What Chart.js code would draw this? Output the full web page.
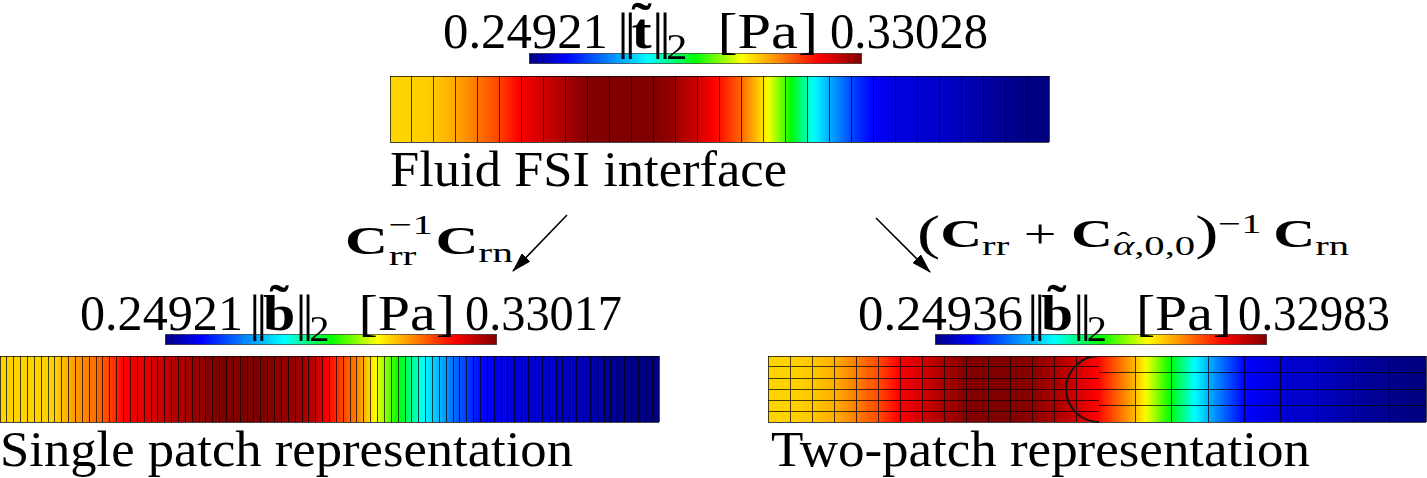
<!DOCTYPE html>
<html>
<head>
<meta charset="utf-8">
<script src="https://cdn.jsdelivr.net/npm/chart.js@4"></script>
<style>
  html, body { margin: 0; padding: 0; background: #fff; }
  #fig { position: relative; width: 1427px; height: 478px; overflow: hidden; }
  .box { position: absolute; }
  .box canvas { display: block; }
  .txt { position: absolute; white-space: nowrap; font-family: "Liberation Serif", "DejaVu Serif", serif;
         line-height: 1; color: #000; transform-origin: 0 0; }
  .txt b { font-weight: bold; }
  .sb { position: relative; top: 0.3em; font-size: 0.7em; line-height: 0; }
  .sp { position: relative; top: -0.48em; font-size: 0.7em; line-height: 0; }
  .par { font-size: 1.2em; line-height: 0; position: relative; top: 0.05em; }
  .acc { position: relative; display: inline-block; }
  .tl { position: absolute; left: 50%; transform: translateX(-50%); top: -0.2em; font-weight: bold; }
  .hat { position: absolute; left: 50%; transform: translateX(-50%); top: -0.15em; font-style: normal; }
  .ss { position: relative; display: inline-block; width: 0.8em; height: 1em; }
  .ss .a { position: absolute; left: 0.02em; top: -0.09em; font-size: 0.7em; line-height: 1; }
  .ss .c { position: absolute; left: 0.02em; top: 1.0em; font-size: 0.7em; line-height: 1; }
  .bars { letter-spacing: -0.08em; font-weight: normal; }
  svg { position: absolute; left: 0; top: 0; }
</style>
</head>
<body>
<div id="fig">
  <div class="box" style="left:529px;top:53px"><canvas id="cbTop" width="333" height="11"></canvas></div>
  <div class="box" style="left:390px;top:76px"><canvas id="stripTop" width="660" height="67"></canvas></div>

  <div class="box" style="left:165px;top:334px"><canvas id="cbSingle" width="332" height="11"></canvas></div>
  <div class="box" style="left:0px;top:356px"><canvas id="stripSingle" width="660" height="67"></canvas></div>

  <div class="box" style="left:935px;top:334px"><canvas id="cbTwo" width="332" height="11"></canvas></div>
  <div class="box" style="left:768px;top:356px"><canvas id="stripTwoL" width="332" height="67"></canvas></div>
  <div class="box" style="left:1099px;top:356px"><canvas id="stripTwoR" width="328" height="67"></canvas></div>

  <span class="txt" data-x="443" data-b="48" data-w="165" data-s="50">0.24921</span>
  <span class="txt" data-x="617" data-b="48" data-w="201" data-s="50"><span class="bars">||</span><b class="acc">t<span class="tl">˜</span></b><span class="bars">||</span><span class="sb">2</span>&nbsp; [Pa]</span>
  <span class="txt" data-x="830" data-b="48" data-w="158" data-s="50">0.33028</span>
  <span class="txt" data-x="390" data-b="186" data-w="397" data-s="50">Fluid FSI interface</span>

  <span class="txt" data-x="345" data-b="247" data-w="168" data-s="40"><b>C</b><span class="ss"><span class="a">−1</span><span class="c">rr</span></span><b>C</b><span class="sb">rn</span></span>
  <span class="txt" data-x="917" data-b="247" data-w="432" data-s="40"><span class="par">(</span><b>C</b><span class="sb">rr</span> + <b>C</b><span class="sb"><i class="acc">α<span class="hat">ˆ</span></i>,0,0</span><span class="par">)</span><span class="sp">−1</span>&thinsp;<b>C</b><span class="sb">rn</span></span>

  <span class="txt" data-x="80" data-b="330" data-w="163" data-s="50">0.24921</span>
  <span class="txt" data-x="249" data-b="330" data-w="206" data-s="50"><span class="bars">||</span><b class="acc">b<span class="tl">˜</span></b><span class="bars">||</span><span class="sb">2</span>&nbsp; [Pa]</span>
  <span class="txt" data-x="465" data-b="330" data-w="157" data-s="50">0.33017</span>
  <span class="txt" data-x="0" data-b="466" data-w="573" data-s="50">Single patch representation</span>

  <span class="txt" data-x="858" data-b="330" data-w="165" data-s="50">0.24936</span>
  <span class="txt" data-x="1027" data-b="330" data-w="205" data-s="50"><span class="bars">||</span><b class="acc">b<span class="tl">˜</span></b><span class="bars">||</span><span class="sb">2</span>&nbsp; [Pa]</span>
  <span class="txt" data-x="1238" data-b="330" data-w="152" data-s="50">0.32983</span>
  <span class="txt" data-x="771" data-b="466" data-w="539" data-s="50">Two-patch representation</span>

  <svg width="1427" height="478">
    <defs>
      <marker id="head" markerUnits="userSpaceOnUse" markerWidth="20" markerHeight="12" refX="19" refY="6" orient="auto">
        <path d="M0,0 L20,6 L0,12 z" fill="#000"></path>
      </marker>
    </defs>
    <line x1="567" y1="215" x2="513" y2="271" stroke="#000" stroke-width="1.6" marker-end="url(#head)"></line>
    <line x1="876" y1="218" x2="930" y2="272" stroke="#000" stroke-width="1.6" marker-end="url(#head)"></line>
  </svg>
</div>

<script>
// Traction norm along the interface, sampled at the mesh lines [Pa]
const topRange = [0.24921, 0.33028];
const topCols = 30;
const topField = [0.30434, 0.30434, 0.30499, 0.30758, 0.31115, 0.31504, 0.32055, 0.32363, 0.32696, 0.33004,
  0.33028, 0.33028, 0.33028, 0.32785, 0.32379, 0.31852, 0.31212, 0.30312, 0.29258, 0.28123,
  0.27191, 0.2638, 0.25797, 0.25594, 0.25513, 0.25432, 0.25318, 0.25205, 0.25034, 0.24945, 0.24921];

// Single patch: 96 columns, field read every second column
const singleRange = [0.24921, 0.33017];
const singleCols = 96;
const singleField = [0.30426, 0.30426, 0.30426, 0.30426, 0.30426, 0.3071, 0.30953, 0.31171, 0.31479, 0.31965,
  0.32094, 0.32288, 0.32466, 0.32628, 0.3275, 0.32936, 0.33017, 0.33017, 0.33017, 0.33017,
  0.32936, 0.32855, 0.32734, 0.32491, 0.31884, 0.31438, 0.31033, 0.30345, 0.29657, 0.28969,
  0.28321, 0.27755, 0.27269, 0.26702, 0.26297, 0.25893, 0.25714, 0.25609, 0.25528, 0.25488,
  0.25447, 0.25391, 0.25326, 0.25245, 0.25123, 0.25026, 0.2497, 0.24937, 0.24921];

// Two patches: left 15x6 cells, right 9x4 cells
const twoRange = [0.24936, 0.32983];
const twoLeftCols = 15, twoLeftRows = 6;
const twoLeftField = [0.30408, 0.30408, 0.30488, 0.30665, 0.31028, 0.31374, 0.31985, 0.32307, 0.32653, 0.32943,
  0.32983, 0.32983, 0.32878, 0.32653, 0.32323, 0.31897];
const twoRightCols = 9, twoRightRows = 4;
const twoRightField = [0.31897, 0.30569, 0.28879, 0.27229, 0.25821, 0.25523, 0.25419, 0.25177, 0.25016, 0.24936];

const JET = [
  [0, [0, 0, 128]], [0.11, [0, 0, 255]], [0.36, [0, 255, 255]], [0.5, [0, 255, 0]],
  [0.64, [255, 255, 0]], [0.87, [255, 0, 0]], [1, [128, 0, 0]]
];
const MESH = 'rgba(0,0,0,0.72)';

function jetColor(t) {
  t = Math.min(1, Math.max(0, t));
  for (let i = 1; i < JET.length; i++) {
    if (t <= JET[i][0]) {
      const [t0, c0] = JET[i - 1];
      const [t1, c1] = JET[i];
      const f = (t - t0) / (t1 - t0);
      return 'rgb(' + c0.map((c, k) => Math.round(c + (c1[k] - c) * f)).join(',') + ')';
    }
  }
  return 'rgb(128,0,0)';
}

// one floating bar per interval between two samples
function segments(field, cols) {
  const step = cols / (field.length - 1);
  return field.slice(1).map((v, i) => ({ x: [i * step, (i + 1) * step], y: 'field', from: field[i], to: v }));
}

function segmentFill(ctx, range) {
  if (ctx.type !== 'data' || !ctx.raw) return jetColor(0);
  const mid = (ctx.raw.from + ctx.raw.to) / 2;
  const flat = jetColor((mid - range[0]) / (range[1] - range[0]));
  const xs = ctx.chart.scales.x;
  if (!xs) return flat;
  const p0 = xs.getPixelForValue(ctx.raw.x[0]);
  const p1 = xs.getPixelForValue(ctx.raw.x[1]);
  // scales are not laid out yet on the first (reset) pass
  if (!Number.isFinite(p0) || !Number.isFinite(p1) || p0 === p1) return flat;
  const g = ctx.chart.ctx.createLinearGradient(p0, 0, p1, 0);
  for (let j = 0; j <= 8; j++) {
    const v = ctx.raw.from + (ctx.raw.to - ctx.raw.from) * j / 8;
    g.addColorStop(j / 8, jetColor((v - range[0]) / (range[1] - range[0])));
  }
  return g;
}

// mesh lines: one tick per element boundary
const meshTicks = n => axis => { axis.ticks = Array.from({ length: n + 1 }, (_, i) => ({ value: i })); };

const interfaceArc = {
  id: 'interfaceArc',
  afterDraw(chart) {
    const { ctx, chartArea: a, scales } = chart;
    const cx = scales.x.getPixelForValue(scales.x.max);
    const cy = (a.top + a.bottom) / 2;
    const r = (a.bottom - a.top) / 2;
    ctx.save();
    ctx.beginPath();
    ctx.arc(cx, cy, r, Math.PI / 2, Math.PI * 3 / 2);
    ctx.lineWidth = 2;
    ctx.strokeStyle = '#111';
    ctx.stroke();
    ctx.restore();
  }
};

function stripChart(id, field, cols, rows, range, extra) {
  extra = extra || {};
  const gridColor = c => (extra.skipFirst && c.index === 0) ? 'rgba(0,0,0,0)' : MESH;
  return new Chart(document.getElementById(id), {
    type: 'bar',
    data: {
      labels: ['field'],
      datasets: [{
        data: segments(field, cols),
        backgroundColor: c => segmentFill(c, range),
        borderWidth: 0,
        barPercentage: 1,
        categoryPercentage: 1,
        xAxisID: 'x',
        yAxisID: 'y'
      }]
    },
    plugins: extra.plugins || [],
    options: {
      indexAxis: 'y',
      responsive: false,
      animation: false,
      events: [],
      layout: { padding: { left: 0, top: 0, right: 1, bottom: 1 } },
      plugins: { legend: { display: false }, tooltip: { enabled: false } },
      scales: {
        x: {
          type: 'linear', min: 0, max: cols, offset: false,
          afterBuildTicks: meshTicks(cols),
          ticks: { display: false, autoSkip: false },
          grid: { z: 1, offset: false, color: gridColor, lineWidth: 1, drawTicks: false, tickLength: 0 },
          border: { display: false }
        },
        y: { type: 'category', display: false, offset: true },
        mesh: {
          type: 'linear', axis: 'y', position: 'left', min: 0, max: rows, offset: false,
          afterBuildTicks: meshTicks(rows),
          ticks: { display: false, autoSkip: false },
          grid: { z: 1, offset: false, color: MESH, lineWidth: 1, drawTicks: false, tickLength: 0 },
          border: { display: false }
        }
      }
    }
  });
}

function colorbar(id, range) {
  return new Chart(document.getElementById(id), {
    type: 'bar',
    data: {
      labels: ['bar'],
      datasets: [{
        data: [{ x: range, y: 'bar' }],
        backgroundColor: c => {
          const xs = c.chart.scales.x;
          if (!xs) return jetColor(0.5);
          const p0 = xs.getPixelForValue(range[0]);
          const p1 = xs.getPixelForValue(range[1]);
          if (!Number.isFinite(p0) || !Number.isFinite(p1) || p0 === p1) return jetColor(0.5);
          const g = c.chart.ctx.createLinearGradient(p0, 0, p1, 0);
          JET.forEach(([t, col]) => g.addColorStop(t, 'rgb(' + col.join(',') + ')'));
          return g;
        },
        borderColor: '#4a4a4a',
        borderWidth: 1,
        borderSkipped: false,
        barPercentage: 1,
        categoryPercentage: 1
      }]
    },
    options: {
      indexAxis: 'y',
      responsive: false,
      animation: false,
      events: [],
      layout: { padding: 0 },
      plugins: { legend: { display: false }, tooltip: { enabled: false } },
      scales: {
        x: { type: 'linear', min: range[0], max: range[1], display: false },
        y: { type: 'category', display: false, offset: true }
      }
    }
  });
}

// place labels on their baselines and fit them to the reference widths
function placeLabels() {
  document.querySelectorAll('.txt').forEach(el => {
    const s = +el.dataset.s;
    el.style.fontSize = s + 'px';
    el.style.left = el.dataset.x + 'px';
    el.style.top = (el.dataset.b - 0.8375 * s) + 'px';
    el.style.transform = 'none';
    const w = el.getBoundingClientRect().width;
    el.style.transform = 'scaleX(' + (el.dataset.w / w) + ')';
  });
}
placeLabels();
if (document.fonts) document.fonts.ready.then(placeLabels);

colorbar('cbTop', topRange);
stripChart('stripTop', topField, topCols, 1, topRange);
colorbar('cbSingle', singleRange);
stripChart('stripSingle', singleField, singleCols, 1, singleRange);
colorbar('cbTwo', twoRange);
stripChart('stripTwoL', twoLeftField, twoLeftCols, twoLeftRows, twoRange, { plugins: [interfaceArc] });
stripChart('stripTwoR', twoRightField, twoRightCols, twoRightRows, twoRange, { skipFirst: true });
</script>
</body>
</html>
